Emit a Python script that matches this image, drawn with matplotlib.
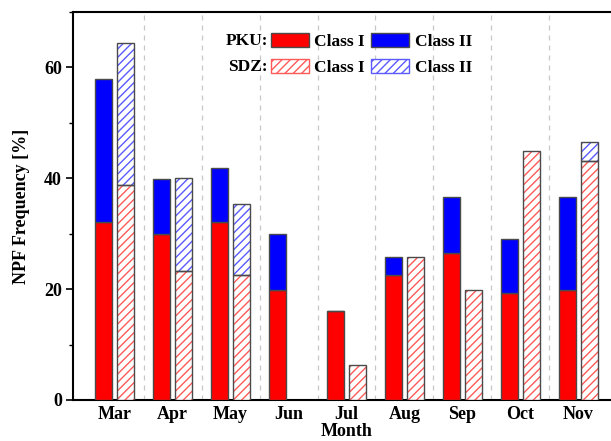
import matplotlib
matplotlib.use("Agg")
import matplotlib.pyplot as plt
import numpy as np
from matplotlib.patches import Patch
from matplotlib.ticker import MultipleLocator, FixedLocator

months = ["Mar", "Apr", "May", "Jun", "Jul", "Aug", "Sep", "Oct", "Nov"]
pku_class1 = [32.1, 29.9, 32.1, 19.9, 16.1, 22.5, 26.5, 19.3, 19.9]
pku_class2 = [25.8, 10.0, 9.7, 10.0, 0.0, 3.3, 10.1, 9.7, 16.7]
sdz_class1 = [38.7, 23.3, 22.5, 0.0, 6.4, 25.8, 19.9, 45.0, 43.2]
sdz_class2 = [25.7, 16.7, 12.9, 0.0, 0.0, 0.0, 0.0, 0.0, 3.3]

plt.rcParams['font.family'] = ['Liberation Serif', 'DejaVu Serif']
plt.rcParams['font.weight'] = 'bold'
plt.rcParams['hatch.linewidth'] = 1.0

fig = plt.figure(figsize=(6.11, 4.41), dpi=100)
ax = fig.add_axes([73/611, 41/441, (620-73)/611, 388/441])

x = np.arange(len(months))
w = 0.30
off = 0.19
edge = '#4a4a4a'

pku1 = np.array(pku_class1)
pku2 = np.array(pku_class2)
sdz1 = np.array(sdz_class1)
sdz2 = np.array(sdz_class2)

ax.bar(x - off, pku1, w, color='#ff0000', edgecolor=edge, linewidth=1.0, zorder=3)
ax.bar(x - off, pku2, w, bottom=pku1, color='#0000ff', edgecolor=edge, linewidth=1.0, zorder=3)

# hatched SDZ bars: hatch layer then edge layer
m1 = sdz1 > 0
m2 = sdz2 > 0
ax.bar(x[m1] + off, sdz1[m1], w, color='white', edgecolor='#ff5a5a', hatch='////', linewidth=0, zorder=3)
ax.bar(x[m1] + off, sdz1[m1], w, color='none', edgecolor=edge, linewidth=1.0, zorder=4)
ax.bar(x[m2] + off, sdz2[m2], w, bottom=sdz1[m2], color='white', edgecolor='#5a5aff', hatch='////', linewidth=0, zorder=3)
ax.bar(x[m2] + off, sdz2[m2], w, bottom=sdz1[m2], color='none', edgecolor=edge, linewidth=1.0, zorder=4)

ax.set_xlim(-0.716, 8.716)
ax.set_ylim(0, 70)
ax.set_xticks(x)
ax.set_xticklabels(months, fontsize=13, fontweight='bold')
ax.xaxis.set_minor_locator(FixedLocator(x[:-1] + 0.5))
ax.tick_params(axis='x', which='both', length=0, pad=4)
ax.grid(axis='x', which='minor', color='#c8c8c8', linestyle=(0, (4, 4)), linewidth=0.9, zorder=0)

ax.set_yticks([0, 20, 40, 60])
ax.yaxis.set_minor_locator(MultipleLocator(10))
ax.tick_params(axis='y', which='major', direction='out', length=5, width=1.2, labelsize=13, pad=3)
ax.tick_params(axis='y', which='minor', direction='out', length=3, width=1.0)
for lab in ax.get_yticklabels():
    lab.set_fontweight('bold')

for s in ['left', 'bottom', 'top']:
    ax.spines[s].set_linewidth(1.5)
ax.spines['right'].set_visible(False)

ax.set_ylabel('NPF Frequency [%]', fontsize=13, fontweight='bold', labelpad=10)
ax.set_xlabel('Month', fontsize=13, fontweight='bold', labelpad=0)

# legend
h_pku1 = Patch(facecolor='#ff0000', edgecolor=edge, linewidth=1.0)
h_sdz1 = Patch(facecolor='white', edgecolor='#ff5a5a', hatch='////', linewidth=1.0)
h_pku2 = Patch(facecolor='#0000ff', edgecolor=edge, linewidth=1.0)
h_sdz2 = Patch(facecolor='white', edgecolor='#5a5aff', hatch='////', linewidth=1.0)
leg = ax.legend([h_pku1, h_sdz1, h_pku2, h_sdz2],
                ['Class I', 'Class I', 'Class II', 'Class II'],
                ncol=2, frameon=False, prop={'family': 'Liberation Serif', 'weight': 'bold', 'size': 12.5},
                handlelength=2.2, handleheight=0.85, handletextpad=0.3, columnspacing=0.35,
                labelspacing=0.55, borderpad=0, borderaxespad=0,
                loc='upper left', bbox_to_anchor=(271/611, 1 - 33/441), bbox_transform=fig.transFigure)
leg.set_zorder(5)
fig.text(268/611, 1 - 41/441, 'PKU:', ha='right', va='center', fontsize=12.5, fontweight='bold')
fig.text(268/611, 1 - 67/441, 'SDZ:', ha='right', va='center', fontsize=12.5, fontweight='bold')

fig.savefig('out.png', dpi=100)
